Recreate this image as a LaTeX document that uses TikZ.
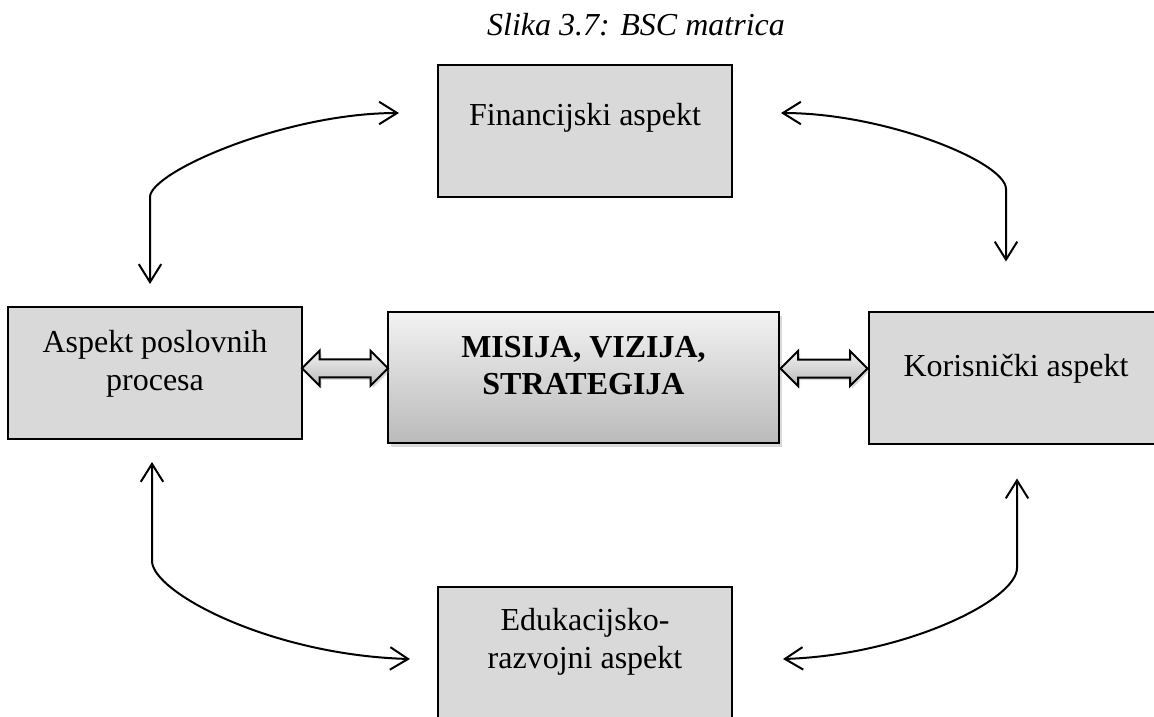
\documentclass[tikz,border=0pt]{standalone}
\usepackage{fontspec}
\setmainfont{Liberation Serif}
\usetikzlibrary{arrows.meta, shapes.arrows, shadows, calc}
\definecolor{bscgrey}{HTML}{D9D9D9}
\definecolor{bsctop}{HTML}{F2F2F2}
\definecolor{bscbot}{HTML}{BABABA}
\tikzset{
  x=0.4pt, y=-0.4pt,
  >={Straight Barb[length=7.2pt, width=9pt]},
  box/.style={rectangle, draw=black, line width=0.8pt, fill=bscgrey, align=center,
              minimum width=117.6pt, minimum height=52.8pt, inner sep=2pt,
              font=\fontsize{12.8}{15.2}\selectfont},
  boxm/.style={box, minimum width=156.4pt, minimum height=52.4pt,
               top color=bsctop, bottom color=bscbot,
               font=\fontsize{12.8}{14.8}\selectfont\bfseries,
               drop shadow={shadow xshift=1.2pt, shadow yshift=-1.4pt, opacity=0.3}},
  dbl/.style={double arrow, draw=black, line width=0.8pt, top color=bsctop, bottom color=bscbot,
              inner xsep=0pt, inner ysep=3.2pt, double arrow head extend=3.4pt,
              drop shadow={shadow xshift=0.8pt, shadow yshift=-1pt, opacity=0.3}},
  flow/.style={<->, line width=0.8pt},
}
\newcommand{\lift}[1]{\rule[-#1]{0pt}{#1}}

\begin{document}
\begin{tikzpicture}
  \useasboundingbox (0,0) rectangle (1154,716);
  \node[font=\fontsize{12.8}{15.2}\selectfont\itshape] (title) at (636,25) {Slika 3.7: BSC matrica};
  \node[boxm] (ms) at (583.5,377.5) {MISIJA, VIZIJA,\\STRATEGIJA\lift{10pt}};
  \node[box] (fa) at (585,131) {Financijski aspekt\lift{13pt}};
  \node[box] (ap) at (155,373) {Aspekt poslovnih\\procesa\lift{10pt}};
  \node[box] (ka) at (1016,377.5) {Korisnički aspekt\lift{10pt}};
  \node[box] (er) at (585,653) {Edukacijsko-\\razvojni aspekt\lift{12pt}};
  % hollow double arrows to the centre
  \node[dbl, minimum height=34.4pt] (la) at ($(ap.east)!0.5!(ms.west)+(0,-7)$) {};
  \node[dbl, minimum height=34.8pt] (ra) at ($(ms.east)!0.5!(ka.west)+(0,-9)$) {};
  % curved links round the outside
  \draw[flow] ($(fa.west)+(-38,-18)$) .. controls (285,113) and (150,172) .. (150,197)
    -- ($(ap.north)+(-5,-22)$);
  \draw[flow] ($(fa.east)+(48,-18)$) .. controls (885,113) and (1006,162) .. (1006,189)
    -- ($(ka.north)+(-10,-49)$);
  \draw[flow] ($(ap.south)+(-3,22)$) -- (152,561)
    .. controls (152,592) and (270,655) .. ($(er.west)+(-27,6)$);
  \draw[flow] ($(ka.south)+(1,34)$) -- (1017,568)
    .. controls (1017,600) and (905,655) .. ($(er.east)+(50,6)$);
\end{tikzpicture}
\end{document}
